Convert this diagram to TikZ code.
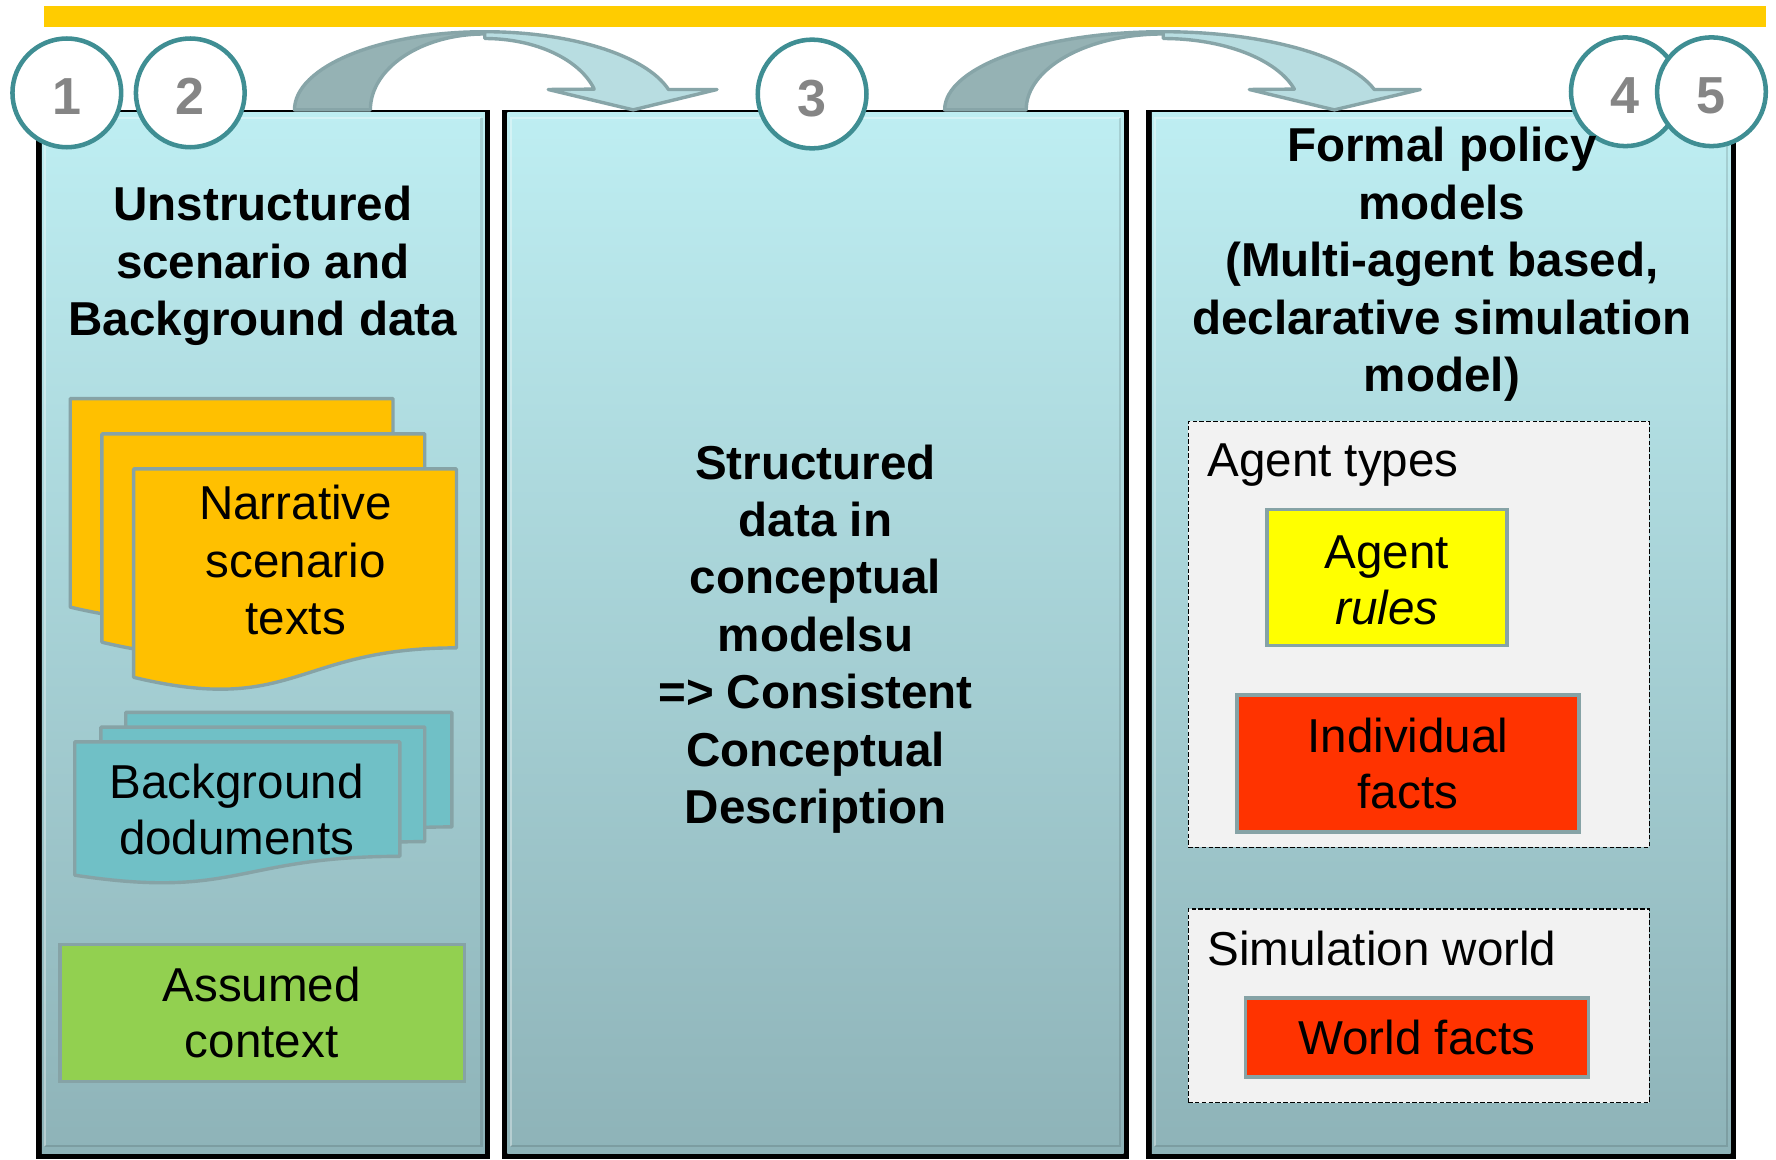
\documentclass[tikz,border=0pt]{standalone}
\usepackage{fontspec}
\setmainfont{Liberation Sans}

\definecolor{barYellow}{HTML}{FFCC00}
\definecolor{panelTop}{HTML}{BEEEF2}
\definecolor{panelBot}{HTML}{8EB3B8}
\definecolor{ringTeal}{HTML}{3F8E93}
\definecolor{numGray}{HTML}{858585}
\definecolor{arrBack}{HTML}{95B2B4}
\definecolor{arrFront}{HTML}{B8DDE1}
\definecolor{arrEdge}{HTML}{87A5A8}
\definecolor{docEdge}{HTML}{86A3A6}
\definecolor{docYellow}{HTML}{FFC000}
\definecolor{docBlue}{HTML}{70C0C6}
\definecolor{ctxGreen}{HTML}{92D050}
\definecolor{ruleYellow}{HTML}{FFFF00}
\definecolor{factRed}{HTML}{FF3300}
\definecolor{groupGray}{HTML}{F2F2F2}

\tikzset{
  panelbody/.style={rectangle, inner sep=0, outer sep=0, top color=panelTop, bottom color=panelBot},
  bevlight/.style={white, opacity=0.35, line width=2},
  bevdark/.style={black, opacity=0.12, line width=2},
  numc/.style={circle, draw=ringTeal, line width=4, fill=white, minimum size=96,
    inner sep=0, text=numGray, text height=39pt, text depth=0pt,
    font=\fontsize{46}{46}\selectfont\bfseries},
  arrback/.style={draw=arrEdge, fill=arrBack, line width=3, line join=round},
  arrfront/.style={draw=arrEdge, fill=arrFront, line width=3, line join=round},
  sheetY/.style={draw=docEdge, line width=3, fill=docYellow, line join=round},
  sheetB/.style={draw=docEdge, line width=3, fill=docBlue, line join=round},
  tagbox/.style={rectangle, draw=docEdge, line width=3, inner sep=0, outer sep=0},
  groupbox/.style={rectangle, draw=black, line width=1, dash pattern=on 4pt off 2pt,
    fill=groupGray, inner sep=0, outer sep=0},
  txt/.style={inner sep=0, outer sep=0, align=center, anchor=north,
    font=\fontsize{42}{50.7}\selectfont},
  headtxt/.style={txt, font=\fontsize{42}{50.7}\selectfont\bfseries},
}

% first-line strut: a node's top lies 36pt above its first baseline
\newcommand\fl{\rule{0pt}{36pt}}

% column panel with dark frame and bevel: x0, y0, x1, y1, name
\newcommand\panelcol[5]{%
  \fill[black] (#1,#2) rectangle (#3,#4);
  \node[panelbody, minimum width={#3-#1-10}, minimum height={#4-#2-7}]
    (#5) at ({(#1+#3)/2},{(#2+#4)/2-1.5}) {};
  \draw[bevlight] ({#1+8},{#4-11}) -- ({#1+8},{#2+7}) -- ({#3-8},{#2+7});
  \draw[bevdark] ({#1+8},{#4-11}) -- ({#3-8},{#4-11}) -- ({#3-8},{#2+7});
}

% document sheet with wavy lower edge: style, x, y, width, height
\newcommand\docsheet[5]{%
  \draw[#1] (#2,#3) -- ({#2+#4},#3) -- ({#2+#4},{#3+0.802*#5})
    .. controls ({#2+0.5*#4},{#3+0.802*#5}) and ({#2+0.5*#4},{#3+1.107*#5})
    .. (#2,{#3+0.934*#5}) -- cycle;
}

% curved block arrow: centre x, outer radius, inner radius, left wing x, right wing x, tip x
% back half rises from the tail to the crest, front half falls to the head
\newcommand\bendarrow[6]{%
  \draw[arrback] ([shift={(#1,97)}]180:#2 and 69)
    arc[start angle=180, end angle=270, x radius=#2, y radius=69]
    -- ([shift={(#1,97)}]270:#3 and 67)
    arc[start angle=270, end angle=180, x radius=#3, y radius=67] -- cycle;
  \draw[arrfront] ([shift={(#1,97)}]270:#2 and 69)
    arc[start angle=270, end angle=344.9, x radius=#2, y radius=69]
    -- (#5,79) -- (#6,97) -- (#4,79)
    -- ([shift={(#1,97)}]343.1:#3 and 63)
    arc[start angle=343.1, end angle=270, x radius=#3, y radius=63] -- cycle;
}

\begin{document}
\begin{tikzpicture}[x=1pt, y=-1pt]
\useasboundingbox (0,0) rectangle (1568,1024);
\fill[white] (0,0) rectangle (1568,1024);

% top bar
\fill[barYellow] (39,5) rectangle (1559,24);

% the three columns
\panelcol{32}{97}{433}{1023}{p1}
\panelcol{443}{97}{997}{1023}{p2}
\panelcol{1012}{97}{1533}{1023}{p3}

% curved arrows between the columns
\bendarrow{428}{168}{101}{484}{633}{559}
\bendarrow{1027}{193}{121}{1103}{1254}{1178}

% numbered circles
\node[numc] (n1) at (59,82) {1};
\node[numc] (n2) at (168,82) {2};
\node[numc] (n3) at (717,83) {3};
\node[numc] (n4) at (1435,81) {4};
\node[numc] (n5) at (1511,81) {5};

% column 1
\node[headtxt] (t1) at (232,159) {\fl Unstructured\\scenario and\\Background data};

\docsheet{sheetY}{62}{352}{285}{197}
\docsheet{sheetY}{90}{383}{285}{197}
\docsheet{sheetY}{118}{414}{285}{197}
\node[txt] (narr) at (261,423) {\fl Narrative\\scenario\\texts};

\docsheet{sheetB}{111}{629}{288}{126}
\docsheet{sheetB}{89}{642}{286}{126}
\docsheet{sheetB}{66}{655}{287}{126}
\node[txt] (bgdoc) at (209,669) {\fl Background\\[-1.5pt]doduments};

\node[tagbox, fill=ctxGreen, minimum width=357, minimum height=121] (ctx) at (231.5,894.5) {};
\node[txt] (ctxt) at (231,848) {\fl Assumed\\[-0.7pt]context};

% column 2
\node[headtxt] (t2) at (720,387) {\fl Structured\\data in\\conceptual\\modelsu\\=> Consistent\\Conceptual\\Description};

% column 3
\node[headtxt] (t3) at (1273,107) {\fl Formal policy\\models\\(Multi-agent based,\\declarative simulation\\model)};

\node[groupbox, minimum width=407, minimum height=376] (agents) at (1252.5,560) {};
\node[txt, anchor=north west] (agtl) at (1066,385) {\fl Agent types};
\node[tagbox, fill=ruleYellow, minimum width=212, minimum height=120] (rules) at (1224.5,510) {};
\node[txt] (rulest) at (1224.5,466) {\fl Agent\\[-1.5pt]\itshape rules};
\node[tagbox, fill=factRed, minimum width=302, minimum height=121] (indiv) at (1243,674) {};
\node[txt] (indivt) at (1243,628) {\fl Individual\\[-0.7pt]facts};

\node[groupbox, minimum width=407, minimum height=171] (world) at (1252.5,888) {};
\node[txt, anchor=north west] (wrldl) at (1066,816) {\fl Simulation world};
\node[tagbox, fill=factRed, minimum width=303, minimum height=70] (wfacts) at (1251,916) {};
\node[txt] (wfactst) at (1251,895) {\fl World facts};
\end{tikzpicture}
\end{document}
